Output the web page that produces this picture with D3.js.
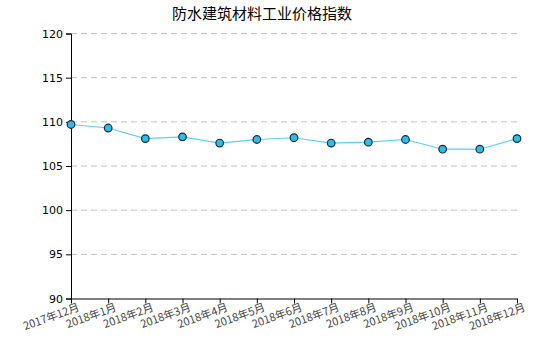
<!DOCTYPE html>
<html><head><meta charset="utf-8">
<script src="https://cdn.jsdelivr.net/npm/d3@7"></script>
<style>body{margin:0;background:#fff}</style>
</head><body>
<svg id="c" width="550" height="350"></svg>
<script>
const title = "防水建筑材料工业价格指数";
const categories = ["2017年12月","2018年1月","2018年2月","2018年3月","2018年4月","2018年5月","2018年6月","2018年7月","2018年8月","2018年9月","2018年10月","2018年11月","2018年12月"];
const values = [109.7,109.3,108.1,108.3,107.6,108.0,108.2,107.6,107.7,108.0,106.9,106.9,108.1];
const yTicks = [90,95,100,105,110,115,120];

const svg = d3.select("#c");
const m = {l:71, r:517, t:33.5, b:298.5};
const x = d3.scalePoint().domain(categories).range([m.l, m.r]);
const y = d3.scaleLinear().domain([90,120]).range([m.b, m.t]);
const font = "'Noto Sans CJK SC', 'DejaVu Sans', sans-serif";

svg.append("text").attr("x", 262).attr("y", 19).attr("text-anchor","middle")
  .attr("font-family", font).attr("font-size", 15).attr("fill","#000").text(title);

// grid
svg.append("g").selectAll("line").data(yTicks.filter(d=>d>90)).join("line")
  .attr("x1", m.l).attr("x2", m.r).attr("y1", d=>y(d)).attr("y2", d=>y(d))
  .attr("stroke","#c0c0c0").attr("stroke-dasharray","6,4").attr("stroke-width",1);

// y axis
const ya = svg.append("g").attr("transform",`translate(${m.l},0)`)
  .call(d3.axisLeft(y).tickValues(yTicks).tickSize(5).tickPadding(3));
ya.selectAll("text").attr("font-family","'DejaVu Sans', sans-serif").attr("font-size",11).attr("fill","#000");
ya.selectAll("line,path").attr("stroke","#000");

// x axis
const xa = svg.append("g").attr("transform",`translate(0,${m.b})`)
  .call(d3.axisBottom(x).tickSize(5).tickSizeOuter(0));
xa.selectAll("line,path").attr("stroke","#000");
xa.selectAll("text").attr("font-family", font).attr("font-size", 11).attr("fill","#444")
  .attr("text-anchor","end").attr("dy","0").attr("y", 14).attr("x", 4)
  .attr("transform","rotate(-20)");

// line
svg.append("path").datum(values)
  .attr("d", d3.line().x((d,i)=>x(categories[i])).y(d=>y(d)))
  .attr("fill","none").attr("stroke","#5ccff5").attr("stroke-width",1.2);

svg.append("g").selectAll("circle").data(values).join("circle")
  .attr("cx",(d,i)=>x(categories[i])).attr("cy",d=>y(d)).attr("r",3.8)
  .attr("fill","#2ebde9").attr("stroke","#1a2a33").attr("stroke-width",1.2);
</script>
</body></html>
